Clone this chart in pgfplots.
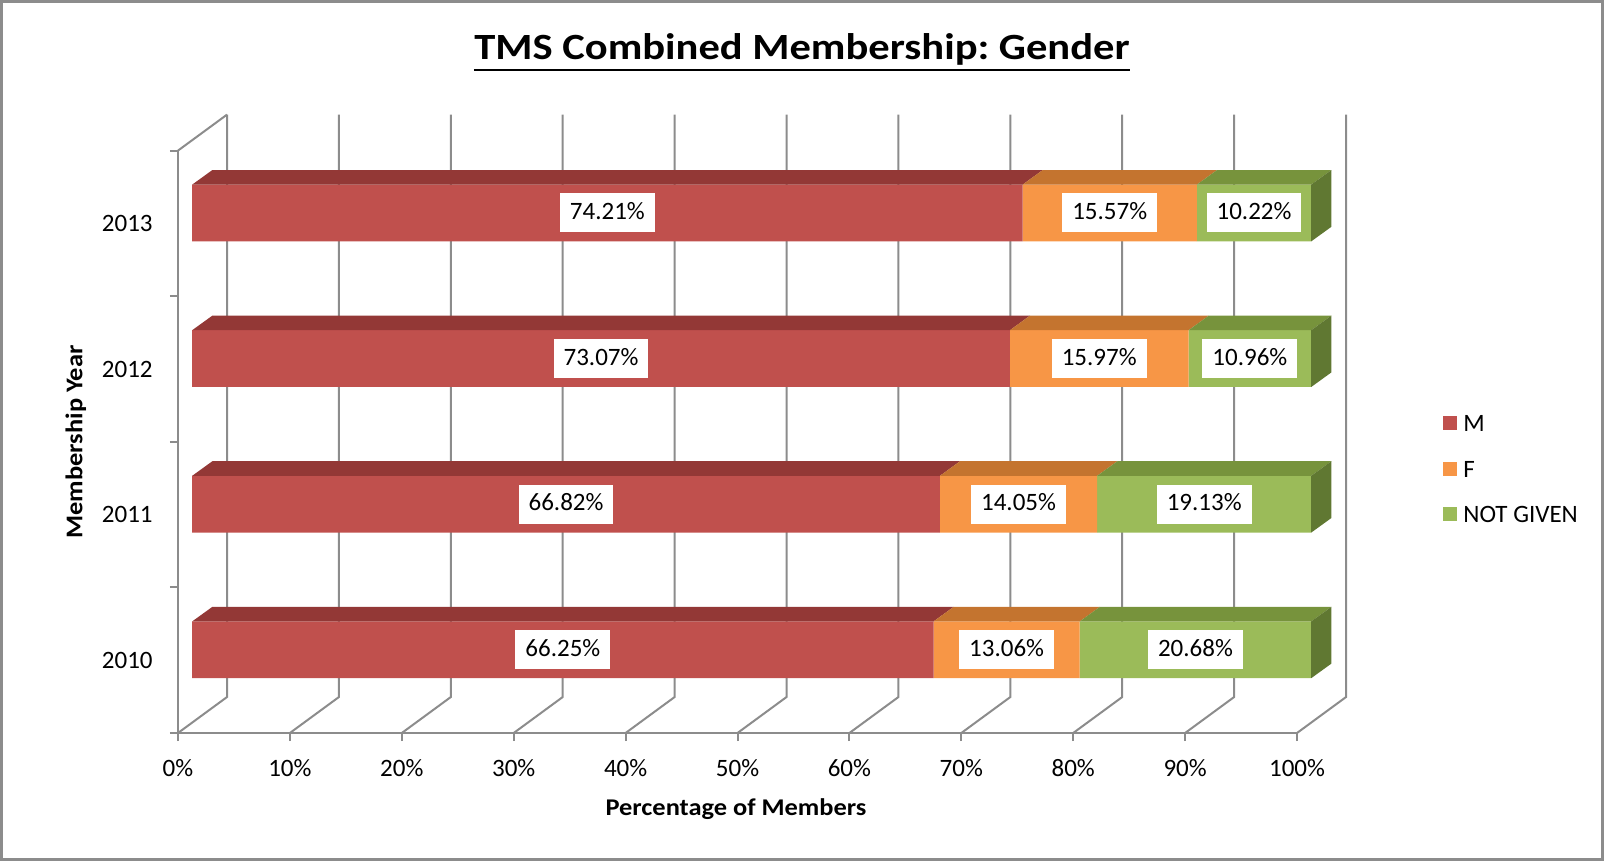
\documentclass[border=0pt]{standalone}
\usepackage{fontspec}
\usepackage{pgfplots}
\pgfplotsset{compat=1.18}
\setmainfont{Carlito}
\newfontfamily\titlefont[FakeStretch=1.15]{Carlito}
\newfontfamily\labelfont[FakeStretch=1.1]{Carlito}
\frenchspacing

\definecolor{mfront}{HTML}{C0504D}
\definecolor{mtop}{HTML}{933836}
\definecolor{ffront}{HTML}{F79646}
\definecolor{ftop}{HTML}{C4742F}
\definecolor{gfront}{HTML}{9BBB59}
\definecolor{gtop}{HTML}{77933C}
\definecolor{gside}{HTML}{607832}
\definecolor{gridgray}{HTML}{8C8C8C}

\newcommand{\txt}{\fontsize{12.5}{15}\selectfont}

\begin{document}
\begin{tikzpicture}
\useasboundingbox (-89pt,-64pt) rectangle (713pt,366.5pt);
\draw[gridgray, line width=1.5pt] (-88.25pt,-63.25pt) rectangle (712.25pt,365.75pt);

% title
\node[anchor=base, inner sep=0pt, font=\titlefont\bfseries\fontsize{18.5}{22}\selectfont] (t) at (312pt,336.6pt) {TMS Combined Membership: Gender};
\draw[line width=1pt] ([yshift=-5pt]t.base west) -- ([yshift=-5pt]t.base east);

% front frame: axes, ticks, floor and back wall
\begin{axis}[
    at={(0pt,0pt)}, anchor=south west,
    x=5.595pt, y=72.8pt,
    xmin=0, xmax=100, ymin=-0.5, ymax=3.5,
    enlargelimits=false, clip=false,
    axis x line*=bottom, axis y line*=left,
    axis line style={gridgray, line width=1pt, -},
    xtick={0,10,...,100},
    xticklabels={0\%,10\%,20\%,30\%,40\%,50\%,60\%,70\%,80\%,90\%,100\%},
    ytick={0,1,2,3},
    yticklabels={2010,2011,2012,2013},
    minor xtick={0,10,...,100},
    minor ytick={-0.5,0.5,1.5,2.5,3.5},
    tick align=outside,
    major tick length=0pt, minor tick length=4pt,
    tick style={gridgray, line width=1pt},
    tick label style={font=\txt, text=black},
    xticklabel style={anchor=base, inner sep=0pt, yshift=-21.5pt},
    yticklabel style={anchor=east, inner sep=0pt, xshift=-12.5pt},
    xlabel={Percentage of Members},
    ylabel={Membership Year},
    xlabel style={at={(rel axis cs:0.4987,-0.1425)}, anchor=base, inner sep=0pt,
        font=\labelfont\bfseries\fontsize{12}{14}\selectfont},
    ylabel style={at={(rel axis cs:-0.0855,0.4997)}, anchor=base, rotate=0, inner sep=0pt,
        font=\labelfont\bfseries\fontsize{12}{14}\selectfont},
]
\pgfplotsinvokeforeach{0,10,...,100}{
    \draw[gridgray, line width=1pt] (axis cs:#1,-0.5) -- (axis cs:{#1+4.38},-0.253) -- (axis cs:{#1+4.38},3.747);
}
\draw[gridgray, line width=1pt] (axis cs:0,3.5) -- (axis cs:4.38,3.747);
\end{axis}

% bars (front faces)
\begin{axis}[
    at={(7.1pt,5.2pt)}, anchor=south west,
    x=5.595pt, y=72.8pt,
    xmin=0, xmax=100, ymin=-0.5, ymax=3.5,
    enlargelimits=false, clip=false, hide axis,
    xbar stacked, bar width=0.39,
    legend style={at={(axis cs:111.78,1.229)}, anchor=west, draw=none, fill=none,
        inner sep=0pt, font=\txt, row sep=13.2pt, nodes={inner sep=0pt},
        /tikz/every odd column/.append style={column sep=3pt}},
    legend cell align=left,
    legend image code/.code={\fill[#1] (0pt,-2.4pt) rectangle (7pt,4.6pt);},
]
\addplot[fill=mfront, draw=none] coordinates {(66.25,0) (66.82,1) (73.07,2) (74.21,3)};
\addlegendentry{M}
\addplot[fill=ffront, draw=none] coordinates {(13.06,0) (14.05,1) (15.97,2) (15.57,3)};
\addlegendentry{F}
\addplot[fill=gfront, draw=none] coordinates {(20.68,0) (19.13,1) (10.96,2) (10.22,3)};
\addlegendentry{NOT GIVEN}
\end{axis}

% top and side faces, data labels
\begin{axis}[
    at={(7.1pt,5.2pt)}, anchor=south west,
    x=5.595pt, y=72.8pt,
    xmin=0, xmax=100, ymin=-0.5, ymax=3.5,
    enlargelimits=false, clip=false, hide axis,
]
% 2013
\addplot[fill=mtop, draw=none] coordinates {(0,3.195) (74.21,3.195) (76.01,3.295) (1.8,3.295)};
\addplot[fill=ftop, draw=none] coordinates {(74.21,3.195) (89.78,3.195) (91.58,3.295) (76.01,3.295)};
\addplot[fill=gtop, draw=none] coordinates {(89.78,3.195) (100,3.195) (101.8,3.295) (91.58,3.295)};
\addplot[fill=gside, draw=none] coordinates {(100,2.805) (100,3.195) (101.8,3.295) (101.8,2.905)};
% 2012
\addplot[fill=mtop, draw=none] coordinates {(0,2.195) (73.07,2.195) (74.87,2.295) (1.8,2.295)};
\addplot[fill=ftop, draw=none] coordinates {(73.07,2.195) (89.04,2.195) (90.84,2.295) (74.87,2.295)};
\addplot[fill=gtop, draw=none] coordinates {(89.04,2.195) (100,2.195) (101.8,2.295) (90.84,2.295)};
\addplot[fill=gside, draw=none] coordinates {(100,1.805) (100,2.195) (101.8,2.295) (101.8,1.905)};
% 2011
\addplot[fill=mtop, draw=none] coordinates {(0,1.195) (66.82,1.195) (68.62,1.295) (1.8,1.295)};
\addplot[fill=ftop, draw=none] coordinates {(66.82,1.195) (80.87,1.195) (82.67,1.295) (68.62,1.295)};
\addplot[fill=gtop, draw=none] coordinates {(80.87,1.195) (100,1.195) (101.8,1.295) (82.67,1.295)};
\addplot[fill=gside, draw=none] coordinates {(100,0.805) (100,1.195) (101.8,1.295) (101.8,0.905)};
% 2010
\addplot[fill=mtop, draw=none] coordinates {(0,0.195) (66.25,0.195) (68.05,0.295) (1.8,0.295)};
\addplot[fill=ftop, draw=none] coordinates {(66.25,0.195) (79.31,0.195) (81.11,0.295) (68.05,0.295)};
\addplot[fill=gtop, draw=none] coordinates {(79.31,0.195) (100,0.195) (101.8,0.295) (81.11,0.295)};
\addplot[fill=gside, draw=none] coordinates {(100,-0.195) (100,0.195) (101.8,0.295) (101.8,-0.095)};

% value labels at segment centres
\addplot[draw=none, mark=none, nodes near coords, point meta=explicit symbolic,
    nodes near coords align=center,
    every node near coord/.append style={fill=white, text=black, draw=none, anchor=center,
        inner xsep=5pt, inner ysep=4pt, text height=9pt, text depth=2.5pt, font=\txt}]
    coordinates {
    (37.105,3) [74.21\%] (81.995,3) [15.57\%] (94.89,3) [10.22\%]
    (36.535,2) [73.07\%] (81.055,2) [15.97\%] (94.52,2) [10.96\%]
    (33.41,1) [66.82\%] (73.845,1) [14.05\%] (90.435,1) [19.13\%]
    (33.125,0) [66.25\%] (72.78,0) [13.06\%] (89.655,0) [20.68\%]
    };
\end{axis}
\end{tikzpicture}
\end{document}
